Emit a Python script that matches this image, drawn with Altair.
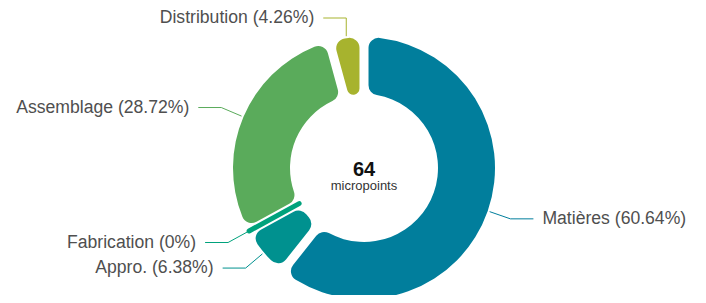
import altair as alt
import pandas as pd

# ---- data ----
categories = ["Matières", "Appro.", "Fabrication", "Assemblage", "Distribution"]
shares = [60.64, 6.38, 0, 28.72, 4.26]          # percent of total
colors = ["#017e9c", "#00918f", "#00a27c", "#5aab5b", "#a7b32e"]
total_value = [64]
total_unit = ["micropoints"]

# ---- layout (pixels inside the plot area) ----
CX, CY = 356, 160
R_OUT, R_IN = 131, 74
FONT = "Liberation Sans"
LABEL_SIZE = 17.6
LABEL_COLOR = "#4f4f4f"
TOP_LIMIT = 10

df = pd.DataFrame({"category": categories, "share": shares,
                   "idx": list(range(len(categories)))})
color_scale = alt.Scale(domain=categories, range=colors)

base = alt.Chart(df)

donut = base.mark_arc(
    innerRadius=R_IN, outerRadius=R_OUT, padAngle=0.06, cornerRadius=10,
    strokeJoin="round"
).encode(
    theta=alt.Theta("share:Q", stack=True),
    order=alt.Order("idx:Q"),
    color=alt.Color("category:N", scale=color_scale, legend=None),
    stroke=alt.Stroke("category:N", scale=color_scale, legend=None),
    strokeWidth=alt.condition("datum.share == 0", alt.value(5), alt.value(0)),
    x=alt.value(CX),
    y=alt.value(CY),
)

geo = (
    base.transform_joinaggregate(total="sum(share)")
    .transform_window(cum="sum(share)", sort=[alt.SortField("idx")], frame=[None, 0])
    .transform_calculate(mid="2*PI*(datum.cum - datum.share/2)/datum.total")
    .transform_calculate(side="sin(datum.mid) < 0 ? -1 : 1")
    .transform_calculate(ax=f"{CX} + {R_OUT + 2}*sin(datum.mid)")
    .transform_calculate(ay=f"{CY} - {R_OUT + 2}*cos(datum.mid)")
    .transform_calculate(rawby=f"{CY} - 155*cos(datum.mid)")
    .transform_calculate(by=f"max({TOP_LIMIT}, datum.rawby)")
    .transform_calculate(bx=f"datum.rawby < {TOP_LIMIT} ? datum.ax : {CX} + 155*sin(datum.mid)")
    .transform_calculate(cx="datum.bx + datum.side*23")
    .transform_calculate(tx="datum.bx + datum.side*32")
    .transform_calculate(label="datum.category + ' (' + format(datum.share, '.2~f') + '%)'")
)

seg1 = geo.mark_rule(strokeWidth=1).encode(
    x=alt.X("ax:Q", scale=None, axis=None),
    y=alt.Y("ay:Q", scale=None, axis=None),
    x2="bx:Q", y2="by:Q",
    color=alt.Color("category:N", scale=color_scale, legend=None),
)
seg2 = geo.mark_rule(strokeWidth=1).encode(
    x=alt.X("bx:Q", scale=None, axis=None),
    y=alt.Y("by:Q", scale=None, axis=None),
    x2="cx:Q", y2="by:Q",
    color=alt.Color("category:N", scale=color_scale, legend=None),
)

txt_left = geo.transform_filter("datum.side < 0").mark_text(
    align="right", baseline="middle", fontSize=LABEL_SIZE, font=FONT, color=LABEL_COLOR
).encode(
    x=alt.X("tx:Q", scale=None, axis=None),
    y=alt.Y("by:Q", scale=None, axis=None),
    text="label:N",
)
txt_right = geo.transform_filter("datum.side > 0").mark_text(
    align="left", baseline="middle", fontSize=LABEL_SIZE, font=FONT, color=LABEL_COLOR
).encode(
    x=alt.X("tx:Q", scale=None, axis=None),
    y=alt.Y("by:Q", scale=None, axis=None),
    text="label:N",
)

center_df = pd.DataFrame({"total": total_value, "unit": total_unit})
c1 = alt.Chart(center_df).mark_text(
    fontSize=20, fontWeight="bold", color="#111111", baseline="middle", font=FONT
).encode(x=alt.value(CX), y=alt.value(CY + 2), text="total:Q")
c2 = alt.Chart(center_df).mark_text(
    fontSize=13, color="#333333", baseline="middle", font=FONT
).encode(x=alt.value(CX), y=alt.value(CY + 18), text="unit:N")

chart = alt.layer(donut, seg1, seg2, txt_left, txt_right, c1, c2).properties(
    width=690, height=287, padding=0,
    autosize=alt.AutoSizeParams(type="none"),
).configure_view(stroke=None)

chart.save("out.html", embed_options={"renderer": "svg", "actions": False})
